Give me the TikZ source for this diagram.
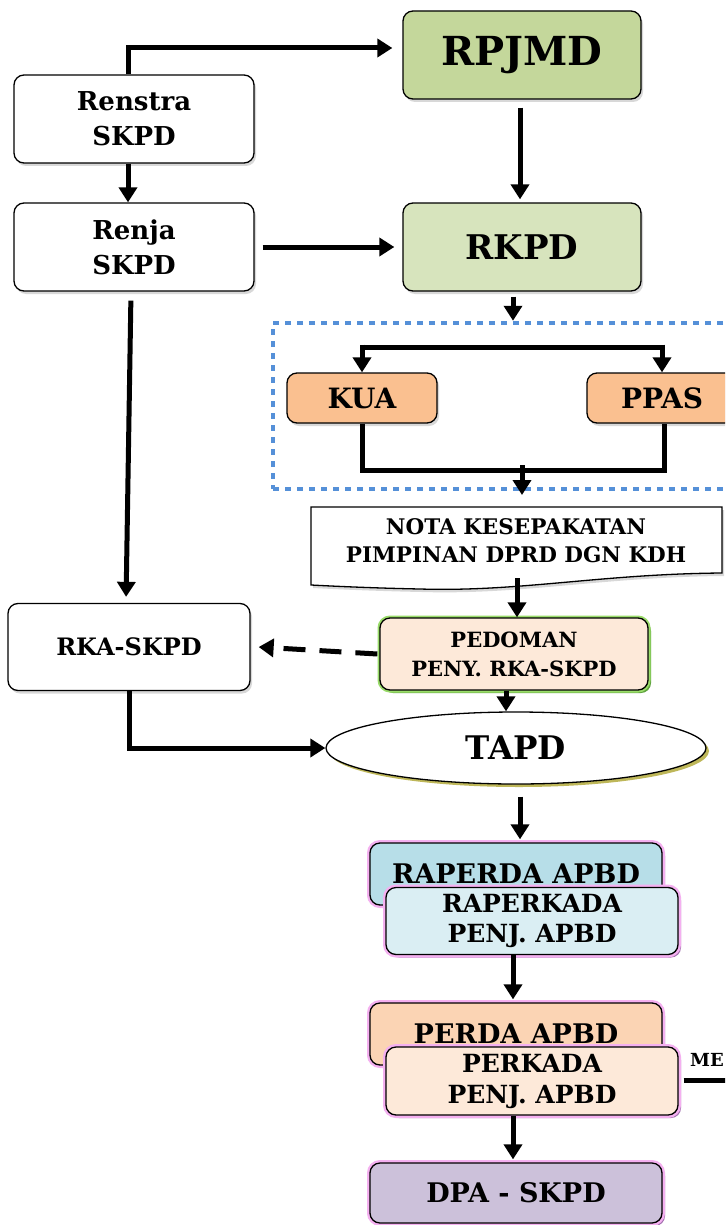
\documentclass[tikz,border=0pt]{standalone}
\usepackage{fontspec}
\setmainfont{DejaVu Serif}
\usetikzlibrary{arrows.meta,shadows,shapes.geometric,calc}

\definecolor{rpjmdfill}{HTML}{C4D79B}
\definecolor{rkpdfill}{HTML}{D7E4BD}
\definecolor{orangefill}{HTML}{FAC090}
\definecolor{peachfill}{HTML}{FDE9D9}
\definecolor{bluefill}{HTML}{B7DEE8}
\definecolor{paleblue}{HTML}{DAEEF3}
\definecolor{apricot}{HTML}{FBD4B4}
\definecolor{lavender}{HTML}{CCC1DA}
\definecolor{dotblue}{HTML}{5590D8}
\definecolor{pinkglow}{HTML}{F4B0F0}
\definecolor{purpleshade}{HTML}{9A62A8}
\definecolor{greenglow}{HTML}{9ADC6A}
\definecolor{greenshade}{HTML}{4E9A2A}
\definecolor{oliveshade}{HTML}{B8B048}

\newcommand{\fsz}[2]{\bfseries\fontsize{#1}{#2}\selectfont}

\tikzset{
  box/.style={draw=black, line width=1.3pt, rounded corners=10pt, align=center,
    inner sep=0pt, fill=white,
    drop shadow={opacity=0.3, shadow xshift=2pt, shadow yshift=-3pt}},
  pinkbox/.style={draw=black, line width=1.3pt, rounded corners=10pt, align=center,
    inner sep=0pt, minimum width=292pt,
    drop shadow={fill=purpleshade, opacity=0.9, shadow xshift=3pt, shadow yshift=-3pt},
    preaction={draw=pinkglow, line width=6pt}},
  arr/.style={line width=5pt, -{Triangle[length=15pt,width=18pt]}},
  conn/.style={line width=5pt},
  groupbox/.style={draw=dotblue, line width=4.5pt, dash pattern=on 6pt off 6pt,
    minimum width=490pt, minimum height=166pt, inner sep=0pt},
}

\begin{document}
\begin{tikzpicture}[x=1pt,y=-1pt]
\clip (0,0) rectangle (725,1225);
\fill[white] (0,0) rectangle (725,1225);

% planning documents
\node[box, fill=rpjmdfill, minimum width=238pt, minimum height=88pt, font=\fsz{40}{46}]
  (rpjmd) at (522,55) {RPJMD};
\node[box, minimum width=240pt, minimum height=88pt, font=\fsz{26}{35}]
  (renstra) at (134,119) {Renstra\\SKPD};
\node[box, minimum width=240pt, minimum height=88pt, font=\fsz{26}{35}]
  (renja) at (134,247) {Renja\\SKPD};
\node[box, fill=rkpdfill, minimum width=238pt, minimum height=88pt, font=\fsz{34}{42}]
  (rkpd) at (522,247) {RKPD};

% KUA / PPAS group
\node[groupbox] (grp) at (518,406) {};
\node[box, fill=orangefill, minimum width=150pt, minimum height=50pt, font=\fsz{28}{30}]
  (kua) at (362,398) {KUA};
\node[box, fill=orangefill, minimum width=150pt, minimum height=50pt, font=\fsz{28}{30}]
  (ppas) at (662,398) {PPAS};
\coordinate (fork) at (513,347);
\coordinate (join) at (522,470);

% agreement document with wavy lower edge
\draw[line width=1.3pt, fill=white,
  drop shadow={opacity=0.3, shadow xshift=2pt, shadow yshift=-3pt}]
  (311,507) -- (722,507) -- (722,573)
  .. controls (600,574) and (520,592) .. (420,589)
  .. controls (370,588) and (330,586) .. (311,585) -- cycle;
\node[align=center, inner sep=0pt, minimum width=411pt, minimum height=60pt,
  font=\fsz{21.5}{28}] (nota) at (516,541) {NOTA KESEPAKATAN\\PIMPINAN DPRD DGN KDH};
\coordinate (notatop) at (522,507);
\coordinate (notabot) at (517,578);

% budget guideline, RKA and TAPD
\node[draw=black, line width=1.3pt, rounded corners=10pt, align=center, inner sep=0pt,
  fill=peachfill, minimum width=268pt, minimum height=72pt, font=\fsz{21}{29},
  drop shadow={fill=greenshade, opacity=0.9, shadow xshift=3pt, shadow yshift=-3pt},
  preaction={draw=greenglow, line width=5pt}]
  (pedoman) at (514,654) {PEDOMAN\\PENY. RKA-SKPD};
\node[box, minimum width=242pt, minimum height=87pt, font=\fsz{24}{28}]
  (rka) at (129,647) {RKA-SKPD};
\node[ellipse, draw=black, line width=1.3pt, fill=white, inner sep=0pt,
  minimum width=380pt, minimum height=72pt, font=\fsz{32.5}{40},
  drop shadow={fill=oliveshade, opacity=0.9, shadow xshift=3pt, shadow yshift=-3pt}]
  (tapd) at (516,748) {TAPD};

% regulations
\node[pinkbox, fill=bluefill, minimum height=62pt, font=\fsz{27}{30}]
  (raperda) at (516,874) {RAPERDA APBD};
\node[pinkbox, fill=paleblue, minimum height=67pt, font=\fsz{25}{30}]
  (raperkada) at (532,921) {RAPERKADA\\PENJ. APBD};
\node[pinkbox, fill=apricot, minimum height=62pt, font=\fsz{27}{30}]
  (perda) at (516,1034) {PERDA APBD};
\node[pinkbox, fill=peachfill, minimum height=68pt, font=\fsz{25}{31}]
  (perkada) at (532,1081) {PERKADA\\PENJ. APBD};
\node[pinkbox, fill=lavender, minimum height=60pt, font=\fsz{27}{30}]
  (dpa) at (516,1193) {DPA - SKPD};
\node[anchor=west, inner sep=0pt, font=\fsz{18}{18}] (me) at (690,1060) {ME};
\coordinate (meend) at (740,1080);

% connectors
\draw[arr] ([xshift=-6pt]renstra.north) |- ([yshift=7pt, xshift=-10pt]rpjmd.west);
\draw[arr] ([xshift=-6pt]renstra.south) -- ([xshift=-6pt]renja.north);
\draw[arr, shorten <=8pt, shorten >=3pt] ([xshift=-2pt]rpjmd.south) -- ([xshift=-2pt]rkpd.north);
\draw[arr, shorten <=8pt, shorten >=8pt] (renja.east) -- (rkpd.west);
\draw[arr, shorten <=5pt] (rkpd.south -| fork) -- (grp.north -| fork);
\draw[conn] (kua.north |- fork) -- (ppas.north |- fork);
\draw[arr] ([yshift=2.5pt]kua.north |- fork) -- (kua.north);
\draw[arr] ([yshift=2.5pt]ppas.north |- fork) -- (ppas.north);
\draw[conn] (kua.south) |- (join) -| ([xshift=2pt]ppas.south);
\draw[arr, shorten >=12pt] ([yshift=5pt]join) -- (notatop);
\draw[arr] (notabot) -- (pedoman.north -| notabot);
\draw[arr, dash pattern=on 22pt off 14pt] ([xshift=-2pt]pedoman.west) -- ([xshift=8pt]rka.east);
\draw[arr, shorten <=9pt, shorten >=6pt] ([xshift=-3pt]renja.south) -- ([xshift=-3pt]rka.north);
\draw[arr] (rka.south) |- (tapd.west);
\draw[arr] ([xshift=-8pt]pedoman.south) -- ([xshift=-10pt]tapd.north);
\draw[arr, shorten <=12pt, shorten >=3pt] ([xshift=4pt]tapd.south) -- ([xshift=4pt, yshift=0pt]raperda.north -| tapd.south);
\draw[arr, shorten >=3pt] ([xshift=-19pt]raperkada.south) -- ([xshift=-3pt]perda.north);
\draw[arr, shorten >=3pt] ([xshift=-19pt]perkada.south) -- ([xshift=-3pt]dpa.north);
\draw[conn, shorten <=5pt] ([yshift=1pt]perkada.east) -- ([yshift=1pt]perkada.east -| meend);
\end{tikzpicture}
\end{document}
